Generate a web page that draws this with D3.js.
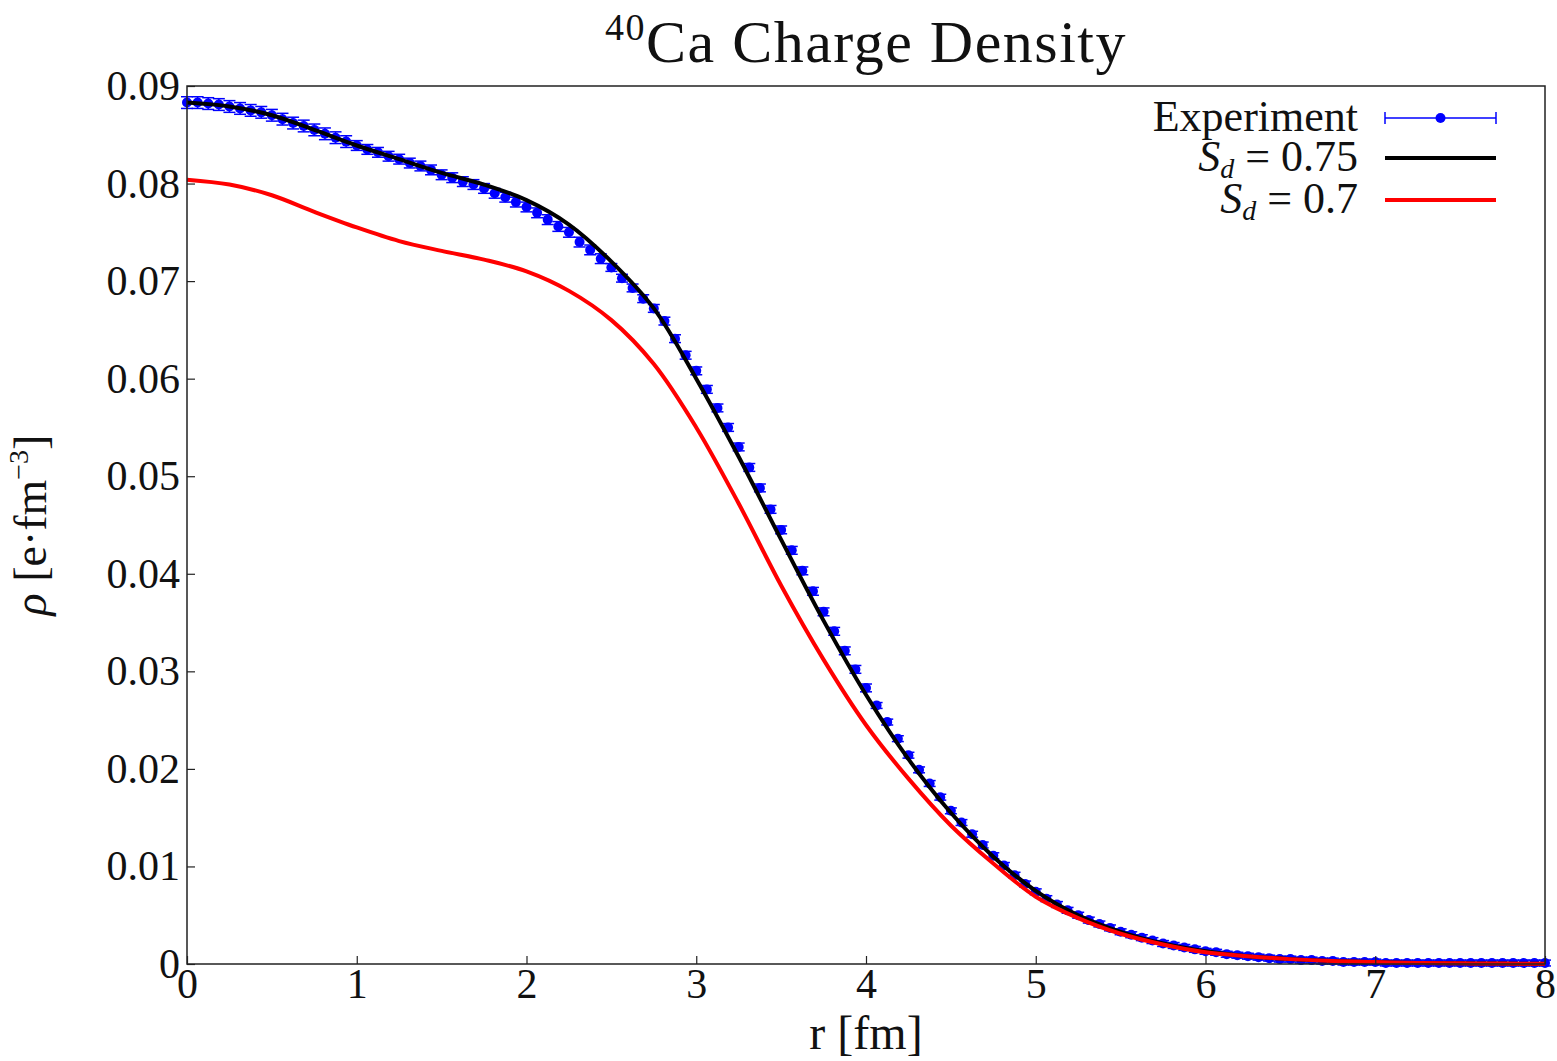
<!DOCTYPE html>
<html>
<head>
<meta charset="utf-8">
<script src="https://cdn.jsdelivr.net/npm/d3@7"></script>
<style>
  body { margin: 0; background: #fff; }
  text { font-family: "Liberation Serif", "DejaVu Serif", serif; fill: #111; }
</style>
</head>
<body>
<script>
// model curves, sampled every 0.25 fm
var rModel = [0, 0.25, 0.5, 0.75, 1, 1.25, 1.5, 1.75, 2, 2.25, 2.5, 2.75, 3, 3.25, 3.5, 3.75,
  4, 4.25, 4.5, 4.75, 5, 5.25, 5.5, 5.75, 6, 6.25, 6.5, 6.75, 7, 7.25, 7.5, 7.75, 8];
var rhoSd075 = [0.0883, 0.0879, 0.0870, 0.0855, 0.0839, 0.0825, 0.0811, 0.0799, 0.0783, 0.0758, 0.0720,
  0.0672, 0.0600, 0.0520, 0.0435, 0.0352, 0.0276, 0.0210, 0.0155, 0.0110, 0.0075, 0.0050, 0.0033,
  0.0021, 0.0013, 0.0008, 0.0005, 0.0003, 0.0002, 0.0001, 0.00007, 0.00004, 0.00002];
var rhoSd07 = [0.0804, 0.0799, 0.0788, 0.0771, 0.0755, 0.0741, 0.0731, 0.0722, 0.0710, 0.0690, 0.0660,
  0.0615, 0.0550, 0.0472, 0.0388, 0.0312, 0.0245, 0.0190, 0.0142, 0.0103, 0.0069, 0.0047, 0.0031,
  0.0020, 0.0012, 0.0008, 0.0005, 0.0003, 0.0002, 0.0001, 0.00007, 0.00004, 0.00002];

// experiment, one point every 0.0625 fm from 0 to 8
var expStep = 0.0625;
var rhoExp = [
  0.0883, 0.0883, 0.0882, 0.0881, 0.0879, 0.0877, 0.0875, 0.0873, 0.0870, 0.0866, 0.0862, 0.0859,
  0.0855, 0.0851, 0.0847, 0.0843, 0.0839, 0.0835, 0.0832, 0.0828, 0.0825, 0.0821, 0.0818, 0.0814,
  0.0809, 0.0806, 0.0802, 0.0799, 0.0795, 0.0790, 0.0786, 0.0781, 0.0776, 0.0770, 0.0763, 0.0756,
  0.0750, 0.0740, 0.0732, 0.0723, 0.0714, 0.0703, 0.0693, 0.0682, 0.0672, 0.0659, 0.0641, 0.0624,
  0.0608, 0.0589, 0.0570, 0.0550, 0.0530, 0.0509, 0.0488, 0.0466, 0.0445, 0.0424, 0.0403, 0.0382,
  0.0361, 0.0341, 0.0321, 0.0302, 0.0283, 0.0265, 0.0248, 0.0231, 0.0214, 0.0199, 0.0185, 0.0171,
  0.0157, 0.0145, 0.0133, 0.0122, 0.0111, 0.0101, 0.0091, 0.0082, 0.0074, 0.0067, 0.0061, 0.0055,
  0.0050, 0.0045, 0.0041, 0.0037, 0.0033, 0.0030, 0.0027, 0.0024, 0.0021, 0.0019, 0.0017, 0.0015,
  0.0013, 0.0012, 0.0010, 0.0009, 0.0008, 0.0007, 0.0006, 0.0005, 0.0005, 0.0004, 0.0004, 0.0003,
  0.0003, 0.0002, 0.0002, 0.0002, 0.0002, 0.0001, 0.0001, 0.0001, 0.0001, 0.0001, 0.0001, 0.0001,
  0.0001, 0.0001, 0.0001, 0.0001, 0.0001, 0.0001, 0.0001, 0.0001, 0.0001];
var errExp = [
  0.0006, 0.0006, 0.0006, 0.0006, 0.0006, 0.0006, 0.0006, 0.0006, 0.0006, 0.0006, 0.0006, 0.0006,
  0.0006, 0.0006, 0.0006, 0.0006, 0.0005, 0.0005, 0.0005, 0.0005, 0.0005, 0.0005, 0.0005, 0.0005,
  0.0005, 0.0005, 0.0005, 0.0005, 0.0005, 0.0005, 0.0005, 0.0005, 0.0005, 0.0005, 0.0005, 0.0005,
  0.0005, 0.0005, 0.0005, 0.0005, 0.0004, 0.0004, 0.0004, 0.0004, 0.0004, 0.0004, 0.0004, 0.0004,
  0.0004, 0.0004, 0.0004, 0.0004, 0.0004, 0.0004, 0.0004, 0.0004, 0.0004, 0.0004, 0.0004, 0.0004,
  0.0004, 0.0004, 0.0004, 0.0004, 0.0004, 0.0003, 0.0003, 0.0003, 0.0003, 0.0003, 0.0003, 0.0003,
  0.0003, 0.0003, 0.0003, 0.0003, 0.0003, 0.0003, 0.0003, 0.0003, 0.0003, 0.0003, 0.0003, 0.0003,
  0.0003, 0.0003, 0.0003, 0.0003, 0.0003, 0.0003, 0.0003, 0.0003, 0.0003, 0.0003, 0.0003, 0.0003,
  0.0003, 0.0003, 0.0003, 0.0003, 0.0003, 0.0003, 0.0003, 0.0003, 0.0003, 0.0003, 0.0003, 0.0003,
  0.0003, 0.0003, 0.0003, 0.0003, 0.0003, 0.0003, 0.0003, 0.0003, 0.0003, 0.0003, 0.0003, 0.0003,
  0.0003, 0.0003, 0.0003, 0.0003, 0.0003, 0.0003, 0.0003, 0.0003, 0.0003];

var xTicks = [0, 1, 2, 3, 4, 5, 6, 7, 8];
var yTicks = [0, 0.01, 0.02, 0.03, 0.04, 0.05, 0.06, 0.07, 0.08, 0.09];

var W = 1557, H = 1061;
var margin = { top: 86, right: 12, bottom: 97, left: 187 },
    width = W - margin.left - margin.right,
    height = H - margin.top - margin.bottom;

var x = d3.scaleLinear().domain([0, 8]).range([0, width]);
var y = d3.scaleLinear().domain([0, 0.09]).range([height, 0]);

var svg = d3.select("body").append("svg")
    .attr("width", W)
    .attr("height", H);

var g = svg.append("g")
    .attr("transform", "translate(" + margin.left + "," + margin.top + ")");

var expData = rhoExp.map(function (v, i) { return { r: i * expStep, rho: v, err: errExp[i] }; });
var model075 = rModel.map(function (r, i) { return { r: r, rho: rhoSd075[i] }; });
var model07 = rModel.map(function (r, i) { return { r: r, rho: rhoSd07[i] }; });

// experiment with error bars
var pts = g.append("g").attr("class", "exp");
var capHalf = 6;
pts.selectAll("line.bar").data(expData).enter().append("line")
    .attr("x1", function (d) { return x(d.r); })
    .attr("x2", function (d) { return x(d.r); })
    .attr("y1", function (d) { return y(d.rho - d.err); })
    .attr("y2", function (d) { return y(d.rho + d.err); })
    .attr("stroke", "#0000ff").attr("stroke-width", 1.5);
pts.selectAll("line.capt").data(expData).enter().append("line")
    .attr("x1", function (d) { return x(d.r) - capHalf; })
    .attr("x2", function (d) { return x(d.r) + capHalf; })
    .attr("y1", function (d) { return y(d.rho + d.err); })
    .attr("y2", function (d) { return y(d.rho + d.err); })
    .attr("stroke", "#0000ff").attr("stroke-width", 1.5);
pts.selectAll("line.capb").data(expData).enter().append("line")
    .attr("x1", function (d) { return x(d.r) - capHalf; })
    .attr("x2", function (d) { return x(d.r) + capHalf; })
    .attr("y1", function (d) { return y(d.rho - d.err); })
    .attr("y2", function (d) { return y(d.rho - d.err); })
    .attr("stroke", "#0000ff").attr("stroke-width", 1.5);
pts.selectAll("circle").data(expData).enter().append("circle")
    .attr("cx", function (d) { return x(d.r); })
    .attr("cy", function (d) { return y(d.rho); })
    .attr("r", 5)
    .attr("fill", "#0000ff");

// model lines
var line = d3.line()
    .curve(d3.curveCatmullRom.alpha(0.5))
    .x(function (d) { return x(d.r); })
    .y(function (d) { return y(d.rho); });

g.append("path").datum(model075)
    .attr("fill", "none").attr("stroke", "#000").attr("stroke-width", 4)
    .attr("d", line);
g.append("path").datum(model07)
    .attr("fill", "none").attr("stroke", "#ff0000").attr("stroke-width", 4)
    .attr("d", line);

// axes (inward ticks)
var xAxis = g.append("g")
    .attr("transform", "translate(0," + height + ")")
    .call(d3.axisBottom(x).tickValues(xTicks).tickSizeInner(-8).tickSizeOuter(0).tickPadding(4)
        .tickFormat(d3.format("d")));
var yAxis = g.append("g")
    .call(d3.axisLeft(y).tickValues(yTicks).tickSizeInner(-8).tickSizeOuter(0).tickPadding(7)
        .tickFormat(function (d) { return d === 0 ? "0" : d3.format(".2f")(d); }));

[xAxis, yAxis].forEach(function (a) {
    a.select(".domain").remove();
    a.selectAll(".tick line").attr("stroke", "#222").attr("stroke-width", 1.2);
    a.selectAll("text").attr("font-size", 42).attr("fill", "#111")
        .style("font-family", "'Liberation Serif', 'DejaVu Serif', serif");
});

// frame
g.append("rect")
    .attr("width", width).attr("height", height)
    .attr("fill", "none").attr("stroke", "#222").attr("stroke-width", 1.5);

// title
var title = svg.append("text")
    .attr("x", margin.left + width / 2).attr("y", 62)
    .attr("text-anchor", "middle").attr("font-size", 60)
    .attr("letter-spacing", 1.5);
title.append("tspan").attr("font-size", 38).attr("dy", -22).text("40");
title.append("tspan").attr("dy", 22).text("Ca Charge Density");

// axis labels
svg.append("text")
    .attr("x", margin.left + width / 2).attr("y", 1049)
    .attr("text-anchor", "middle").attr("font-size", 48)
    .text("r [fm]");

var yl = svg.append("text")
    .attr("transform", "translate(46," + (margin.top + height / 2) + ") rotate(-90)")
    .attr("text-anchor", "middle").attr("font-size", 46);
yl.append("tspan").attr("font-style", "italic").text("ρ");
yl.append("tspan").text(" [e·fm");
yl.append("tspan").attr("font-size", 28).attr("dy", -18).text("−3");
yl.append("tspan").attr("dy", 18).text("]");

// legend
var legX1 = 1385, legX2 = 1496, legText = 1358;
var legRows = [
    { label: "Experiment", y: 118, kind: "exp" },
    { label: "0.75", y: 158, kind: "line", color: "#000" },
    { label: "0.7", y: 200, kind: "line", color: "#ff0000" }
];
var leg = svg.append("g");
legRows.forEach(function (row) {
    var t = leg.append("text")
        .attr("x", legText).attr("y", row.y + 13)
        .attr("text-anchor", "end").attr("font-size", 44);
    if (row.kind === "exp") {
        t.text(row.label);
        leg.append("line").attr("x1", legX1).attr("x2", legX2).attr("y1", row.y).attr("y2", row.y)
            .attr("stroke", "#0000ff").attr("stroke-width", 1.5);
        [legX1, legX2].forEach(function (cx) {
            leg.append("line").attr("x1", cx).attr("x2", cx).attr("y1", row.y - 6).attr("y2", row.y + 6)
                .attr("stroke", "#0000ff").attr("stroke-width", 1.5);
        });
        leg.append("circle").attr("cx", (legX1 + legX2) / 2).attr("cy", row.y).attr("r", 5).attr("fill", "#0000ff");
    } else {
        t.append("tspan").attr("font-style", "italic").text("S");
        t.append("tspan").attr("font-style", "italic").attr("font-size", 28).attr("dy", 7).text("d");
        t.append("tspan").attr("dy", -7).text(" = " + row.label);
        leg.append("line").attr("x1", legX1).attr("x2", legX2).attr("y1", row.y).attr("y2", row.y)
            .attr("stroke", row.color).attr("stroke-width", 4);
    }
});
</script>
</body>
</html>
